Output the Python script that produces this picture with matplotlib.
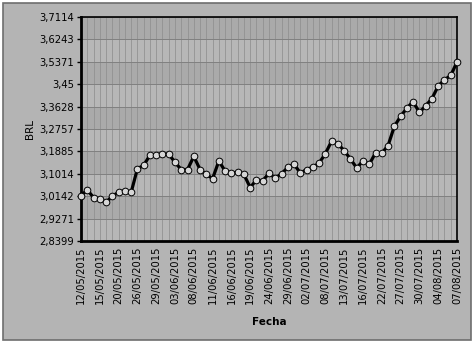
import matplotlib.pyplot as plt
from matplotlib.patches import Rectangle
import numpy as np

# valores (BRL, un punto por sesión)
valores = [3.016, 3.039, 3.009, 3.003, 2.990, 3.015, 3.029, 3.036, 3.029, 3.121,
           3.134, 3.174, 3.176, 3.178, 3.178, 3.146, 3.118, 3.118, 3.169, 3.118,
           3.099, 3.083, 3.151, 3.112, 3.104, 3.107, 3.099, 3.048, 3.078, 3.074,
           3.104, 3.084, 3.102, 3.126, 3.139, 3.104, 3.118, 3.127, 3.143, 3.180,
           3.229, 3.218, 3.191, 3.159, 3.124, 3.152, 3.138, 3.183, 3.182, 3.211,
           3.286, 3.325, 3.357, 3.382, 3.340, 3.366, 3.394, 3.443, 3.467, 3.484,
           3.536]
etiquetas = ['12/05/2015', '15/05/2015', '20/05/2015', '26/05/2015', '29/05/2015',
             '03/06/2015', '08/06/2015', '11/06/2015', '16/06/2015', '19/06/2015',
             '24/06/2015', '29/06/2015', '02/07/2015', '08/07/2015', '13/07/2015',
             '16/07/2015', '22/07/2015', '27/07/2015', '30/07/2015', '04/08/2015',
             '07/08/2015']
yticks = [2.8399, 2.9271, 3.0142, 3.1014, 3.1885, 3.2757, 3.3628, 3.45, 3.5371, 3.6243, 3.7114]
ytick_labels = [('%g' % v).replace('.', ',') for v in yticks]

fig = plt.figure(figsize=(4.76, 3.43), dpi=100)
fig.patch.set_facecolor('white')
# marco exterior gris
fig.patches.append(Rectangle((3 / 476, 3 / 343), 468 / 476, 337 / 343, transform=fig.transFigure,
                             facecolor='#b4b4b4', edgecolor='#6e6e6e', linewidth=1.2, zorder=-10))

ax = fig.add_axes([81 / 476, 1 - 241 / 343, 376 / 476, 224 / 343])
ax.set_facecolor('#b7b7b7')

x = np.arange(len(valores))
ax.set_xlim(0, len(valores) - 1)
ax.set_ylim(yticks[0], yticks[-1])

# bandas alternas
for i in range(len(yticks) - 1):
    if (len(yticks) - 2 - i) % 2 == 0:
        ax.axhspan(yticks[i], yticks[i + 1], color='#aaaaaa', zorder=0, lw=0)

ax.set_xticks(x[::3])
ax.set_xticklabels(etiquetas, rotation=90, fontsize=7.2)
ax.set_xticks(x, minor=True)
ax.set_yticks(yticks)
ax.set_yticklabels(ytick_labels, fontsize=7.2)
ax.tick_params(axis='x', which='both', length=0, pad=4)
ax.tick_params(axis='y', length=3, width=1, pad=2)
ax.grid(True, which='both', axis='x', color='#929292', linewidth=0.6, zorder=1)
ax.grid(True, which='major', axis='y', color='#808080', linewidth=0.7, zorder=1)
ax.set_axisbelow(True)

ax.plot(x, valores, color='black', linewidth=2.3, marker='o', markersize=4.8,
        markerfacecolor='#d6d6d6', markeredgecolor='black', markeredgewidth=0.7,
        zorder=3, clip_on=False)

for s in ax.spines.values():
    s.set_linewidth(1.2)
ax.spines['left'].set_linewidth(2)
ax.spines['bottom'].set_linewidth(2)

ax.set_ylabel('BRL', fontsize=7.5, labelpad=3)
ax.set_xlabel('Fecha', fontsize=7.5, fontweight='bold', labelpad=9)

plt.savefig('out.png', dpi=100)
